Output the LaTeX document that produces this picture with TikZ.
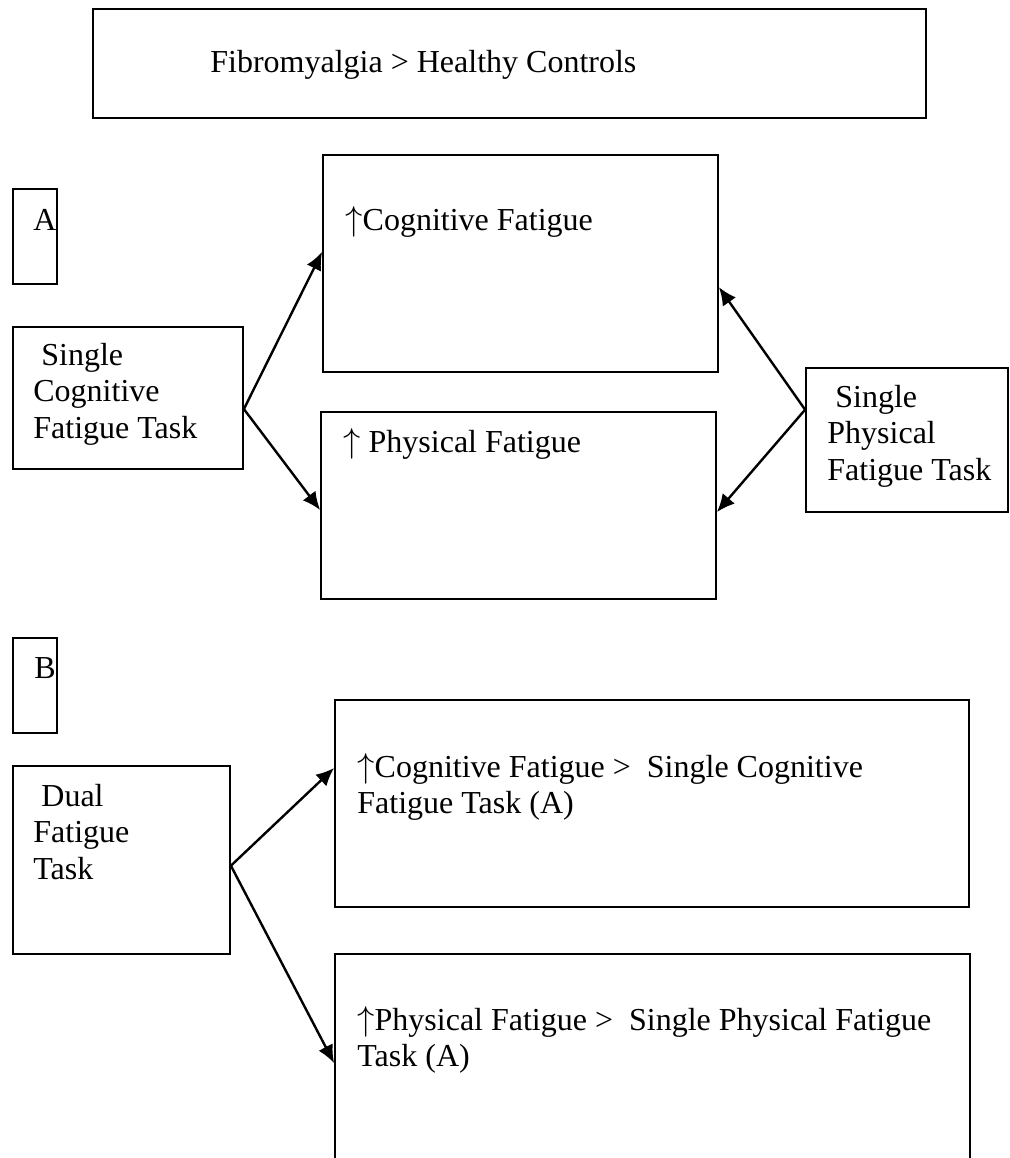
\documentclass[tikz,border=0pt]{standalone}
\usepackage{fontspec}
\setmainfont{Liberation Serif}
\usepackage{tikz}
\usetikzlibrary{arrows.meta,calc,fit,positioning}

\tikzset{
  box/.style={draw, line width=0.9pt, inner sep=0pt},
  txt/.style={inner sep=0pt, anchor=base west, font=\fontsize{16}{18.25}\selectfont},
  link/.style={line width=1.2pt, -{Latex[length=9pt,width=8pt]}}
}
\newcommand{\lines}[1]{\parbox[t]{12cm}{#1}}
\newcommand{\up}{$\uparrow$}

\begin{document}
\begin{tikzpicture}[x=0.5pt,y=-0.5pt]

\clip (0,0) rectangle (1010,1158);

\node[box, fit={(93,9) (926,118)}] (fhc) {};
\node[txt] (fhctxt) at (210,72) {Fibromyalgia > Healthy Controls};

% A
\node[box, fit={(13,189) (57,284)}] (boxA) {};
\node[txt] (Atxt) at (33,230) {A};

\node[box, fit={(13,327) (243,469)}] (scf) {};
\node[txt] (scftxt) at (33,365) {\lines{\ Single\\Cognitive\\Fatigue Task}};

\node[box, fit={(323,155) (718,372)}] (cog) {};
\node[txt] (cogtxt) at (345,230) {\up Cognitive Fatigue};

\node[box, fit={(321,412) (716,599)}] (phys) {};
\node[txt] (phystxt) at (343,452) {\up\ Physical Fatigue};

\node[box, fit={(806,368) (1008,512)}] (spf) {};
\node[txt] (spftxt) at (827,407) {\lines{\ Single\\Physical\\Fatigue Task}};

\draw[link] ($(scf.north east)!0.577!(scf.south east)$) -- ($(cog.north west)!0.447!(cog.south west)$);
\draw[link] ($(scf.north east)!0.577!(scf.south east)$) -- ($(phys.north west)!0.524!(phys.south west)$);
\draw[link] ($(spf.north west)!0.292!(spf.south west)$) -- ($(cog.north east)!0.608!(cog.south east)$);
\draw[link] ($(spf.north west)!0.292!(spf.south west)$) -- ($(phys.north east)!0.535!(phys.south east)$);

% B
\node[box, fit={(13,638) (57,733)}] (boxB) {};
\node[txt] (Btxt) at (34,678) {B};

\node[box, fit={(13,766) (230,954)}] (dual) {};
\node[txt] (dualtxt) at (33,806) {\lines{\ Dual\\Fatigue\\Task}};

\node[box, fit={(335,700) (969,907)}] (cogB) {};
\node[txt] (cogBtxt) at (357,777) {\lines{\up Cognitive Fatigue > \ Single Cognitive\\Fatigue Task (A)}};

\node[box, fit={(335,954) (970,1170)}] (physB) {};
\node[txt] (physBtxt) at (357,1030) {\lines{\up Physical Fatigue > \ Single Physical Fatigue\\Task (A)}};

\draw[link] ($(dual.north east)!0.53!(dual.south east)$) -- ($(cogB.north west)!0.33!(cogB.south west)$);
\draw[link] ($(dual.north east)!0.53!(dual.south east)$) -- ($(physB.north west)!0.505!(physB.south west)$);

\end{tikzpicture}
\end{document}
